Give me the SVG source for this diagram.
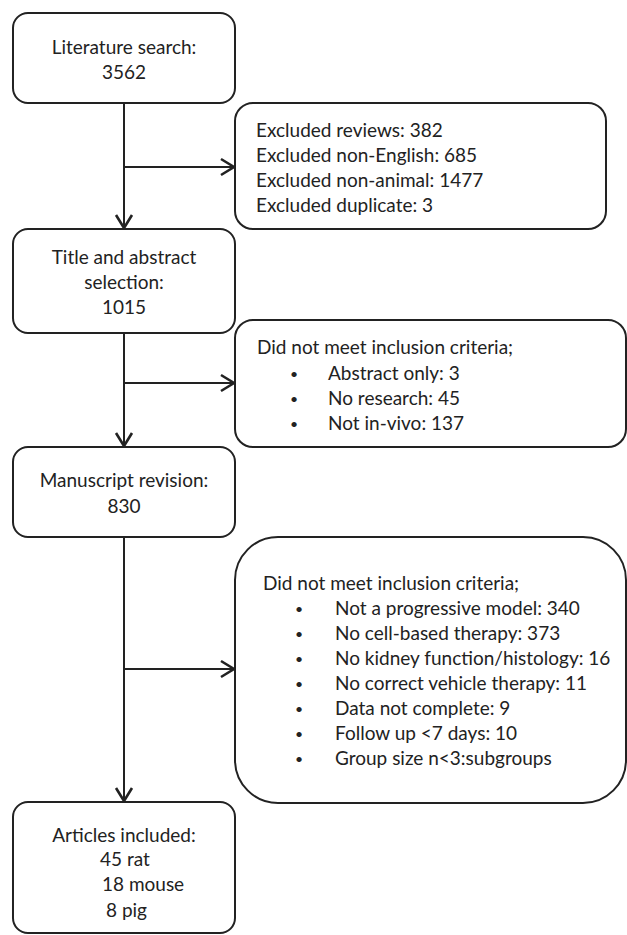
<svg xmlns="http://www.w3.org/2000/svg" width="627" height="935" viewBox="0 0 627 935">
<style>
.box{fill:#fff;stroke:#222;stroke-width:2}
.t{font-family:Lato,"Liberation Sans",sans-serif;font-size:19px;fill:#222}
.b{font-family:Lato,"Liberation Sans",sans-serif;font-size:14px;fill:#222}
.c{text-anchor:middle}
.ln{stroke:#222;stroke-width:2;fill:none}
</style>
<defs>
<marker id="ah" markerUnits="userSpaceOnUse" markerWidth="20" markerHeight="20" viewBox="-16 -10 20 20" refX="0" refY="0" orient="auto">
<path d="M-13,-8 L0,0 L-13,8" fill="none" stroke="#222" stroke-width="2.6"/>
</marker>
</defs>
<rect width="627" height="935" fill="#fff"/>
<g id="connectors">
<line class="ln" x1="124" y1="103" x2="124" y2="228" marker-end="url(#ah)"/>
<line class="ln" x1="124" y1="167" x2="234" y2="167" marker-end="url(#ah)"/>
<line class="ln" x1="124" y1="333" x2="124" y2="446" marker-end="url(#ah)"/>
<line class="ln" x1="124" y1="383" x2="234" y2="383" marker-end="url(#ah)"/>
<line class="ln" x1="124" y1="537" x2="124" y2="801" marker-end="url(#ah)"/>
<line class="ln" x1="124" y1="669" x2="234" y2="669" marker-end="url(#ah)"/>
</g>
<g id="search">
<rect class="box" x="13" y="13" width="222" height="90" rx="15"/>
<text class="t c" x="124" y="54">Literature search:</text>
<text class="t c" x="124" y="79">3562</text>
</g>
<g id="excluded1">
<rect class="box" x="235" y="103" width="371" height="126" rx="18"/>
<text class="t" x="256" y="137">Excluded reviews: 382</text>
<text class="t" x="256" y="162">Excluded non-English: 685</text>
<text class="t" x="256" y="187">Excluded non-animal: 1477</text>
<text class="t" x="256" y="212">Excluded duplicate: 3</text>
</g>
<g id="title">
<rect class="box" x="13" y="229" width="222" height="104" rx="15"/>
<text class="t c" x="124" y="264">Title and abstract</text>
<text class="t c" x="124" y="289">selection:</text>
<text class="t c" x="124" y="314">1015</text>
</g>
<g id="excluded2">
<rect class="box" x="235" y="320" width="391" height="127" rx="18"/>
<text class="t" x="257" y="354">Did not meet inclusion criteria;</text>
<text class="b" x="290" y="379">•</text><text class="t" x="328" y="380">Abstract only: 3</text>
<text class="b" x="290" y="404">•</text><text class="t" x="328" y="405">No research: 45</text>
<text class="b" x="290" y="429">•</text><text class="t" x="328" y="430">Not in-vivo: 137</text>
</g>
<g id="manuscript">
<rect class="box" x="13" y="447" width="222" height="90" rx="15"/>
<text class="t c" x="124" y="487">Manuscript revision:</text>
<text class="t c" x="124" y="513">830</text>
</g>
<g id="excluded3">
<rect class="box" x="235" y="537" width="391" height="266" rx="43"/>
<text class="t" x="263" y="590">Did not meet inclusion criteria;</text>
<text class="b" x="295" y="614">•</text><text class="t" x="335" y="615">Not a progressive model: 340</text>
<text class="b" x="295" y="639">•</text><text class="t" x="335" y="640">No cell-based therapy: 373</text>
<text class="b" x="295" y="664">•</text><text class="t" x="335" y="665">No kidney function/histology: 16</text>
<text class="b" x="295" y="689">•</text><text class="t" x="335" y="690">No correct vehicle therapy: 11</text>
<text class="b" x="295" y="714">•</text><text class="t" x="335" y="715">Data not complete: 9</text>
<text class="b" x="295" y="739">•</text><text class="t" x="335" y="740">Follow up &lt;7 days: 10</text>
<text class="b" x="295" y="764">•</text><text class="t" x="335" y="765">Group size n&lt;3:subgroups</text>
</g>
<g id="included">
<rect class="box" x="13" y="802" width="222" height="131" rx="15"/>
<text class="t c" x="124" y="842">Articles included:</text>
<text class="t" x="100" y="866">45 rat</text>
<text class="t" x="102" y="891">18 mouse</text>
<text class="t" x="106" y="917">8 pig</text>
</g>
</svg>
